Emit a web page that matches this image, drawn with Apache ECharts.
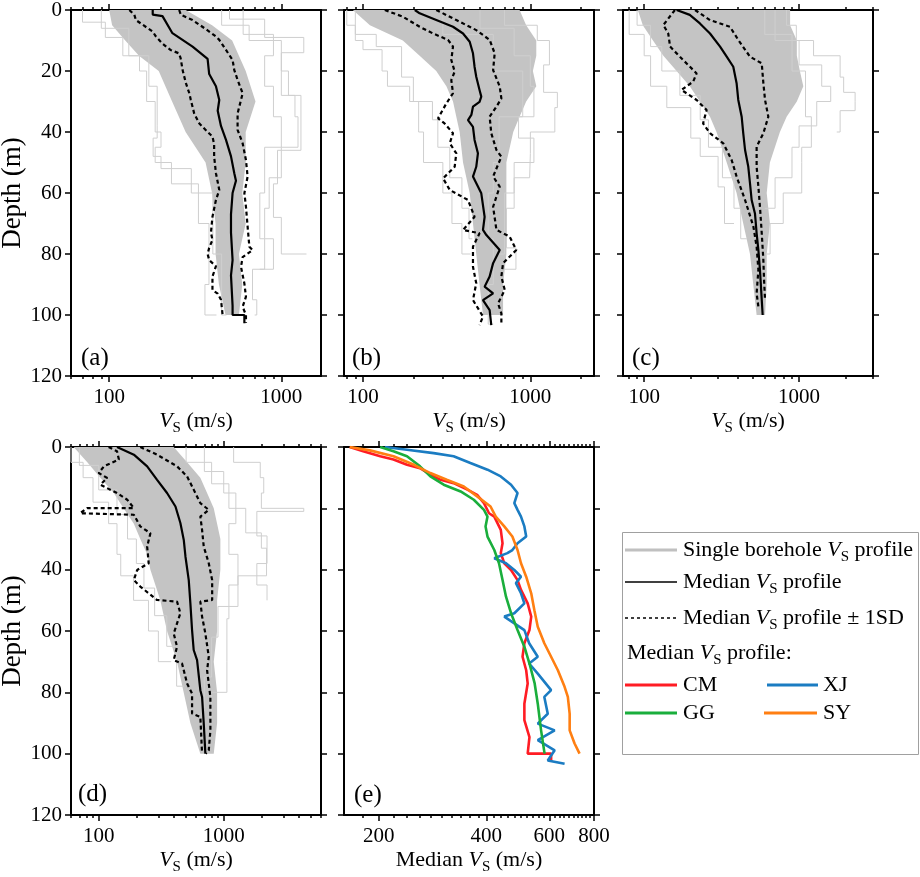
<!DOCTYPE html>
<html>
<head>
<meta charset="utf-8">
<script src="https://cdn.jsdelivr.net/npm/echarts@6/dist/echarts.min.js"></script>
</head>
<body style="margin:0;background:#fff">
<div id="main" style="width:920px;height:877px"></div>
<script>
// ---- axis ticks ----
var decMajors = [100, 1000];
var decMinors = [60, 70, 80, 90, 200, 300, 400, 500, 600, 700, 800, 900, 2000, 3000, 4000, 5000, 6000, 7000, 8000, 9000];
var eMajors = [200, 400, 600, 800];
var eMinors = [180, 220, 240, 260, 280, 300, 320, 340, 360, 380, 420, 440, 460, 480, 500, 520, 540, 560, 580,
  620, 640, 660, 680, 700, 720, 740, 760, 780];

// ---- panel (a) : [Vs, depth] ----
var aMedian = [[179,0],[179,1.5],[204,2],[233,7.6],[305,12],[373,16],[381,21],[417,25],[436,29.5],[427,33],[446,38],[477,42.6],[510,48],[533,53.5],[545,56],[521,60],[510,67],[510,73],[521,82],[510,87],[521,97],[521,100],[610,100],[610,102.7]];
var aLower = [[131,0],[140,1.6],[143,3.3],[179,7.1],[187,8.7],[203,10.9],[227,13.1],[254,14.2],[260,15.8],[267,19.7],[279,24],[292,27.3],[298,29.5],[312,34],[334,37.2],[373,40],[398,41.5],[407,44],[407,48],[417,53.5],[436,59],[417,62.3],[398,67.8],[390,73],[398,75.4],[381,78],[373,80],[381,82],[417,84],[398,87.4],[398,91.8],[427,93],[446,95],[456,100]];
var aUpper = [[255,0],[261,1.6],[305,3.3],[365,6.3],[417,8.7],[436,9.8],[477,13.1],[521,16.4],[533,19.7],[557,22.9],[596,27.3],[583,29.5],[557,33.9],[557,39.3],[596,43.7],[623,49.2],[637,54.6],[610,60.1],[623,64.5],[637,71],[652,77.6],[681,78.7],[596,81],[583,84.2],[610,89.7],[623,94],[596,97.3],[623,100],[623,102.6]];
var aCoreL = [[100,0],[104,5],[124,10],[149,15],[194,20],[232,30],[278,40],[363,50],[396,60],[415,70],[415,80],[434,90],[474,100]];
var aCoreR = [[278,0],[396,5],[518,10],[567,15],[621,20],[708,30],[621,40],[621,50],[593,60],[621,70],[567,80],[593,90],[567,100]];
var aGrey1 = [[500,0],[800,3],[1350,9],[1000,14],[1100,20],[1300,28],[1300,40],[950,46],[900,57],[1000,68],[1400,80]];
var aGrey2 = [[600,0],[900,8],[800,15],[900,25],[1000,35],[800,45],[750,60],[800,75],[680,85],[720,95],[700,100]];
var aGrey3 = [[70,0],[95,4],[120,9],[150,15],[165,20],[185,30],[200,40],[185,45],[230,50],[330,57],[380,70],[360,90],[420,100]];
var aGrey4 = [[450,0],[650,5],[1000,10],[1200,28],[1250,35],[1000,45],[850,55],[800,65],[900,75],[750,85]];
var aGrey5 = [[90,0],[130,6],[170,15],[190,25],[190,38],[180,42],[200,48],[300,52],[400,60],[450,80],[480,100]];

// ---- panel (b) ----
var bMedian = [[204,0],[218,1.1],[274,3.3],[345,5.5],[396,7.7],[434,10.4],[454,14.2],[464,18.6],[475,21.9],[497,26.2],[509,28.4],[497,30.1],[454,31.7],[444,34.4],[424,36.1],[454,38.3],[464,42.6],[486,47],[475,51.4],[454,54.6],[509,60.1],[533,67.8],[521,72.1],[546,73.8],[656,78.7],[599,83],[571,87.4],[533,90.7],[599,92.9],[521,95.1],[571,98.4],[584,103.3]];
var bLower = [[135,0],[173,2.2],[218,5.5],[262,7.7],[322,9.8],[345,12],[337,16.4],[353,20.2],[337,23],[345,27.3],[315,30.6],[281,35.5],[307,37.2],[345,40.4],[330,43.7],[361,47],[353,51.4],[301,55.2],[330,59],[424,62.3],[464,67.8],[396,72.1],[497,73.2],[454,77.6],[454,84.2],[475,89.6],[454,95.1],[521,100.5],[497,103.3]];
var bUpper = [[274,0],[361,3.3],[475,6.6],[571,9.8],[612,14.2],[599,19.7],[656,25.1],[671,29],[627,31.7],[571,35],[584,40.4],[627,45.9],[671,48.1],[599,54.6],[656,57.9],[599,64.5],[627,72.1],[752,74.3],[824,78.7],[687,83],[671,87.4],[703,91.8],[641,96.2],[671,99.5],[671,103.3]];
var bCoreL = [[87,0],[110,5],[173,10],[218,15],[274,20],[315,25],[345,30],[361,35],[378,40],[396,50],[434,60],[454,70],[475,80],[497,90],[521,100]];
var bCoreR = [[862,0],[944,5],[1085,10],[1085,15],[1035,20],[1085,25],[944,30],[862,35],[790,40],[719,50],[719,60],[719,70],[719,80],[687,90],[687,100]];
var bGrey1 = [[700,0],[1100,5],[1300,10],[1200,18],[1450,27],[1400,32],[1000,40],[990,47],[800,55],[720,65],[820,78],[700,85]];
var bGrey2 = [[80,0],[90,5],[100,10],[130,13],[140,20],[190,25],[215,30],[230,40],[300,50],[340,60],[390,70],[440,80]];
var bGrey3 = [[300,0],[600,8],[900,20],[650,35],[600,50],[560,60],[600,75],[560,90],[600,103]];
var bGrey4 = [[500,0],[800,6],[1000,15],[1050,25],[850,35],[1050,42],[800,50],[700,60],[650,80]];
var bGrey5 = [[90,0],[120,8],[170,12],[200,22],[260,30],[280,36],[330,45],[390,55],[430,65],[450,75]];

// ---- panel (c) ----
var cMedian = [[162,0],[197,1.6],[229,4.4],[266,7.7],[309,12],[341,15.3],[376,18.6],[395,24],[405,29.5],[426,35],[436,40.4],[448,45.9],[470,51.4],[482,56.8],[494,62.3],[519,66.7],[532,73.2],[546,78.7],[559,85.2],[574,95],[582,100]];
var cLower = [[158,0],[133,4.9],[143,7.7],[147,12],[170,15.3],[218,20.8],[207,23.5],[174,26.2],[218,29.5],[253,32.8],[240,37.2],[266,40.4],[324,43.7],[367,49.2],[395,54.6],[448,62.3],[507,71],[532,77.6],[546,85.2],[532,92.9],[546,97.3]];
var cUpper = [[213,0],[266,3.3],[358,5.5],[405,9.8],[482,15.3],[574,17.5],[588,24],[603,29.5],[633,35],[588,40.4],[532,44.8],[532,51.4],[546,57.9],[559,64.5],[574,73.2],[588,82],[594,88.5],[603,95]];
var cCoreL = [[91,0],[98,5],[114,10],[133,15],[162,20],[197,25],[229,30],[266,35],[293,40],[341,50],[395,60],[436,70],[482,80],[506,90],[532,100]];
var cCoreR = [[875,0],[875,5],[967,10],[967,15],[1012,20],[1065,25],[967,30],[831,35],[752,40],[648,50],[618,60],[648,70],[618,80],[618,90],[603,100]];
var cGrey1 = [[830,0],[960,5],[1240,10],[1840,15],[1940,22],[2300,27],[2300,30],[1840,33],[1750,40]];
var cGrey2 = [[600,0],[900,8],[1100,20],[1200,35],[1040,45],[1040,50],[790,60],[650,70],[620,80]];
var cGrey3 = [[80,0],[100,8],[110,15],[140,25],[200,32],[230,42],[300,48],[330,58],[380,70]];
var cGrey4 = [[700,0],[1000,10],[1400,18],[1600,25],[1300,30],[1000,38],[900,45],[700,55],[600,65]];
var cGrey5 = [[90,0],[110,5],[130,12],[170,20],[230,28],[260,36],[320,45],[380,55],[420,65],[460,75]];

// ---- panel (d) ----
var dMedian = [[140,0],[191,2.5],[244,6.3],[293,10.7],[352,15],[411,19.4],[450,24.8],[479,30.3],[494,35.7],[525,43.4],[541,51],[558,59.7],[575,66.2],[612,69.5],[650,79.3],[671,81.5],[692,90.2],[713,100]];
var dLower = [[120,0],[140,1.4],[145,4.1],[110,6.3],[100,8.5],[117,10.1],[103,12.3],[140,15],[169,17.2],[191,19.9],[81,19.9],[71,21.6],[191,22.1],[215,25.9],[259,28.1],[244,32.5],[251,37.9],[203,40.1],[191,43.4],[215,45.5],[293,49.9],[423,50.4],[450,54.2],[398,60.8],[423,65.1],[398,69.5],[464,70.6],[509,77.1],[558,80.4],[558,86.9],[650,88],[671,100]];
var dUpper = [[215,0],[293,2.5],[423,6.3],[509,9.6],[575,13.9],[650,18.3],[759,20.5],[650,22.7],[671,27],[692,32.5],[759,37.9],[808,43.4],[808,49.9],[650,50.4],[671,55.3],[713,60.8],[759,68.4],[736,72.8],[782,81.5],[782,92.4],[759,98.9],[720,100]];
var dCoreL = [[63,0],[81,5],[103,10],[132,15],[158,20],[191,25],[215,30],[244,35],[259,40],[311,50],[352,60],[423,70],[478,80],[541,90],[650,100]];
var dCoreR = [[398,0],[509,5],[650,10],[736,15],[832,20],[885,25],[940,30],[940,35],[940,40],[885,50],[885,60],[832,70],[885,80],[885,90],[832,100]];
var dGrey1 = [[1200,0],[1960,5],[2090,10],[2000,15],[4370,20],[1840,21],[2220,29],[1840,38],[2220,45],[2220,50]];
var dGrey2 = [[700,0],[1000,8],[1250,15],[1100,25],[1300,35],[1100,45],[1060,56],[1060,70],[800,80],[750,88]];
var dGrey3 = [[60,0],[75,5],[90,10],[120,18],[140,25],[150,35],[190,42],[250,50],[300,60],[380,70]];
var dGrey4 = [[500,0],[800,5],[1100,12],[1500,20],[2000,28],[2200,33],[1300,42],[900,52],[800,62],[700,75],[680,85]];
var dGrey5 = [[70,0],[100,6],[140,14],[170,22],[200,30],[230,38],[280,46],[350,55],[420,65],[480,78]];

// ---- panel (e) : median profiles per region ----
var eCM = [[166,0],[181,1.4],[202,3],[220,4.1],[240,5.8],[261,6.9],[279,9],[298,10.7],[324,11.8],[354,13.9],[377,15.6],[394,18.3],[407,21.6],[421,22.7],[439,27],[444,31.4],[439,34.6],[449,37.9],[469,40.1],[489,43.4],[500,46.6],[522,51],[534,55.3],[528,59.7],[511,64],[505,68.4],[517,72.8],[522,77.1],[511,83.7],[511,89.1],[528,94.6],[522,100],[607,100],[607,102.7]];
var eGG = [[202,0],[220,1.4],[240,3],[261,6.3],[279,9.6],[304,12.3],[339,14.5],[369,17.2],[394,20.5],[403,22.7],[398,25.9],[403,29.2],[421,33.6],[434,37.9],[444,43.4],[454,48.8],[469,54.2],[489,59.7],[511,65.1],[528,70.6],[546,77.1],[557,83.7],[569,92.4],[582,100]];
var eXJ = [[208,0],[240,0.9],[285,2],[324,3],[361,5.2],[403,7.4],[439,9.6],[469,12.3],[489,15],[479,18.3],[489,20.5],[500,22.7],[511,25.9],[517,29.2],[489,31.4],[473,33.6],[458,34.6],[421,36.3],[454,37.9],[479,40.1],[500,42.3],[484,44.4],[500,47.7],[511,51],[479,54.2],[449,55.3],[479,57.5],[511,59.7],[527,64],[557,68.4],[527,70.6],[557,73.9],[607,79.3],[581,81.5],[594,87],[557,90.2],[621,92.4],[557,95.6],[621,98.9],[594,102.2],[662,103.3]];
var eSY = [[166,0],[189,1.1],[220,3],[251,5.8],[279,8.5],[310,10.7],[346,12.9],[377,16.1],[411,19.4],[425,22.7],[449,25.9],[473,29.2],[489,33.6],[500,37.9],[517,42.3],[534,47.7],[545,53.2],[557,58.6],[581,64],[607,68.4],[634,72.8],[662,78.2],[676,81.5],[684,87],[684,92.4],[706,96.7],[729,100]];

var FONT = '"Liberation Serif", "Times New Roman", serif';
var GREY = '#c4c4c4';
var GREY_LINE = '#cfcfcf';
var COLORS = { CM: '#ff1c24', GG: '#1aae3c', XJ: '#1b7cc2', SY: '#ff7f12' };

var subRich = {
  n: { fontSize: 22, lineHeight: 30, fontFamily: FONT, color: '#000' },
  i: { fontSize: 22, lineHeight: 30, fontFamily: FONT, fontStyle: 'italic', color: '#000' },
  s: { fontSize: 15, lineHeight: 15, fontFamily: FONT, verticalAlign: 'bottom', color: '#000' }
};

var vsName = '{i|V}{s|S}{n| (m/s)}';
var medName = '{n|Median }{i|V}{s|S}{n| (m/s)}';

var panels = [
  { box: { left: 71, top: 10, width: 250, height: 366 }, xmin: 60, xmax: 1700, majors: decMajors, minors: decMinors, showY: true, xname: vsName,
    label: '(a)', lx: 81, ly: 358, coreL: aCoreL, coreR: aCoreR, greys: [aGrey1, aGrey2, aGrey3, aGrey4, aGrey5], med: aMedian, lo: aLower, up: aUpper },
  { box: { left: 344, top: 10, width: 250, height: 366 }, xmin: 77, xmax: 2400, majors: decMajors, minors: decMinors, showY: false, xname: vsName,
    label: '(b)', lx: 352, ly: 358, coreL: bCoreL, coreR: bCoreR, greys: [bGrey1, bGrey2, bGrey3, bGrey4, bGrey5], med: bMedian, lo: bLower, up: bUpper },
  { box: { left: 623, top: 10, width: 250, height: 366 }, xmin: 73, xmax: 3000, majors: decMajors, minors: decMinors, showY: false, xname: vsName,
    label: '(c)', lx: 632, ly: 358, coreL: cCoreL, coreR: cCoreR, greys: [cGrey1, cGrey2, cGrey3, cGrey4, cGrey5], med: cMedian, lo: cLower, up: cUpper },
  { box: { left: 71, top: 447, width: 250, height: 368 }, xmin: 60, xmax: 6000, majors: decMajors, minors: decMinors, showY: true, xname: vsName,
    label: '(d)', lx: 78, ly: 794, coreL: dCoreL, coreR: dCoreR, greys: [dGrey1, dGrey2, dGrey3, dGrey4, dGrey5], med: dMedian, lo: dLower, up: dUpper },
  { box: { left: 344, top: 447, width: 250, height: 368 }, xmin: 160, xmax: 800, majors: eMajors, minors: eMinors, showY: false, xname: medName,
    label: '(e)', lx: 354, ly: 795,
    colored: [['CM', eCM], ['XJ', eXJ], ['GG', eGG], ['SY', eSY]] }
];

var axisLineStyle = { color: '#000', width: 2 };
var tickStyle = { color: '#000', width: 1.5 };
var grids = [], xAxes = [], yAxes = [], series = [], graphics = [];

panels.forEach(function (p, gi) {
  grids.push(Object.assign({ containLabel: false, outerBoundsMode: 'none' }, p.box));
  var xi = xAxes.length;
  [['bottom', true], ['bottom', false], ['top', true], ['top', false]].forEach(function (c) {
    var major = c[1], isMain = major && c[0] === 'bottom';
    xAxes.push({
      type: 'log', gridIndex: gi, min: p.xmin, max: p.xmax, position: c[0],
      axisLine: { show: major, onZero: false, lineStyle: axisLineStyle },
      axisTick: { show: true, inside: false, length: major ? 6 : 3, customValues: major ? p.majors : p.minors, lineStyle: tickStyle },
      axisLabel: { show: isMain, customValues: p.majors, fontSize: 21, color: '#000', fontFamily: FONT, margin: 11,
        formatter: function (v) { return String(Math.round(v)); } },
      minorTick: { show: false }, splitLine: { show: false },
      name: isMain ? p.xname : '', nameLocation: 'middle', nameGap: 30,
      nameTextStyle: { fontFamily: FONT, rich: subRich }
    });
  });
  var yi = yAxes.length;
  ['left', 'right'].forEach(function (pos) {
    var main = pos === 'left' && p.showY;
    yAxes.push({
      type: 'value', gridIndex: gi, inverse: true, min: 0, max: 120, interval: 20, position: pos,
      axisLine: { show: true, onZero: false, lineStyle: axisLineStyle },
      axisTick: { show: true, inside: false, length: 6, lineStyle: tickStyle },
      axisLabel: { show: main, fontSize: 21, color: '#000', fontFamily: FONT, margin: 9 },
      splitLine: { show: false },
      name: main ? 'Depth (m)' : '', nameLocation: 'middle', nameGap: 43,
      nameTextStyle: { fontSize: 27, color: '#000', fontFamily: FONT }
    });
  });

  if (p.coreL) {
    (function (cl, cr) {
      series.push({
        type: 'custom', xAxisIndex: xi, yAxisIndex: yi, silent: true, z: 1,
        data: [cl[0]],
        renderItem: function (params, api) {
          var pts = cl.concat(cr.slice().reverse()).map(function (q) { return api.coord(q); });
          return { type: 'polygon', shape: { points: pts }, style: { fill: GREY } };
        }
      });
    })(p.coreL, p.coreR);
    p.greys.forEach(function (g) {
      series.push({ type: 'line', xAxisIndex: xi, yAxisIndex: yi, data: g, step: 'start', symbol: 'none', silent: true, z: 2,
        lineStyle: { color: GREY_LINE, width: 1 } });
    });
    series.push({ type: 'line', xAxisIndex: xi, yAxisIndex: yi, data: p.lo, symbol: 'none', z: 5,
      lineStyle: { color: '#000', width: 2.2, type: [4, 3] } });
    series.push({ type: 'line', xAxisIndex: xi, yAxisIndex: yi, data: p.up, symbol: 'none', z: 5,
      lineStyle: { color: '#000', width: 2.2, type: [4, 3] } });
    series.push({ type: 'line', xAxisIndex: xi, yAxisIndex: yi, data: p.med, symbol: 'none', z: 6,
      lineStyle: { color: '#000', width: 2.2 } });
  }
  if (p.colored) {
    p.colored.forEach(function (c) {
      series.push({ type: 'line', name: c[0], xAxisIndex: xi, yAxisIndex: yi, data: c[1], symbol: 'none', z: 5,
        lineStyle: { color: COLORS[c[0]], width: 2.6 } });
    });
  }
  graphics.push({ type: 'text', x: p.lx, y: p.ly, style: { text: p.label, font: '25px ' + FONT, fill: '#000', verticalAlign: 'middle' } });
});

// ---- legend box ----
function legText(x, y, txt) {
  return { type: 'text', x: x, y: y, style: { text: txt, rich: subRich, verticalAlign: 'middle', fill: '#000', font: '22px ' + FONT } };
}
function legLine(x1, x2, y, color, w, dash) {
  return { type: 'line', shape: { x1: x1, y1: y, x2: x2, y2: y }, style: { stroke: color, lineWidth: w, lineDash: dash || null } };
}
graphics.push({ type: 'rect', shape: { x: 622.5, y: 532.5, width: 296, height: 222 }, style: { fill: 'none', stroke: '#a0a0a0', lineWidth: 1 } });
graphics.push(legLine(625, 677, 550, '#c0c0c0', 3));
graphics.push(legText(683, 550, '{n|Single borehole }{i|V}{s|S}{n| profile}'));
graphics.push(legLine(625, 677, 582, '#000', 1.5));
graphics.push(legText(683, 582, '{n|Median }{i|V}{s|S}{n| profile}'));
graphics.push(legLine(625, 677, 618, '#000', 1.5, [3, 3]));
graphics.push(legText(683, 618, '{n|Median }{i|V}{s|S}{n| profile ± 1SD}'));
graphics.push(legText(627, 653, '{n|Median }{i|V}{s|S}{n| profile:}'));
graphics.push(legLine(625, 677, 685, COLORS.CM, 3));
graphics.push(legText(683, 685, '{n|CM}'));
graphics.push(legLine(767, 818, 685, COLORS.XJ, 3));
graphics.push(legText(823, 685, '{n|XJ}'));
graphics.push(legLine(625, 677, 713, COLORS.GG, 3));
graphics.push(legText(683, 713, '{n|GG}'));
graphics.push(legLine(764, 817, 713, COLORS.SY, 3));
graphics.push(legText(823, 713, '{n|SY}'));

var chart = echarts.init(document.getElementById('main'));
chart.setOption({
  animation: false,
  backgroundColor: '#fff',
  textStyle: { fontFamily: FONT },
  grid: grids,
  xAxis: xAxes,
  yAxis: yAxes,
  series: series,
  graphic: { elements: graphics }
});
</script>
</body>
</html>
